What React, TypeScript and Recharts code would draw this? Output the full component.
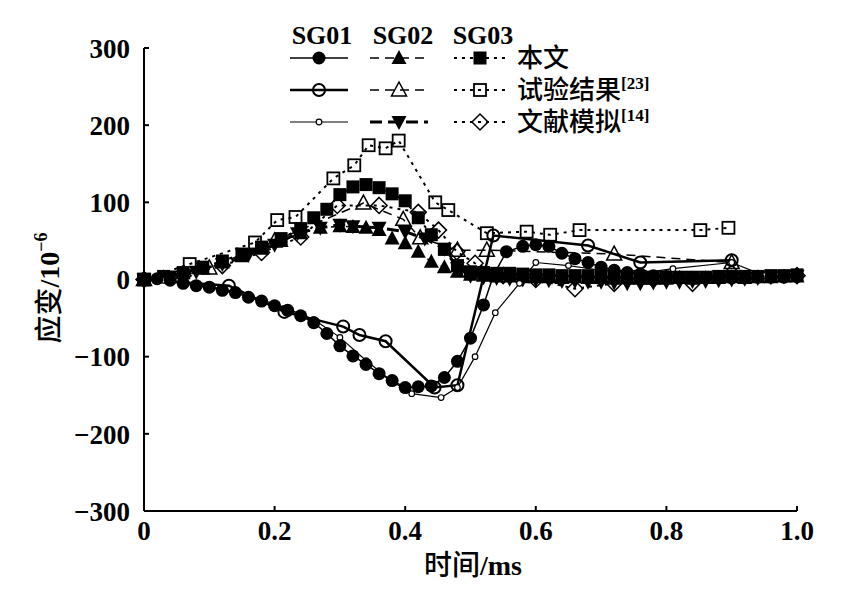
import React from "react";
import { Line, LineChart, XAxis, YAxis } from "recharts";

// SG01
const sg01ModelX = [0, 0.02, 0.04, 0.06, 0.08, 0.1, 0.12, 0.14, 0.16, 0.18, 0.2, 0.22, 0.24, 0.26, 0.28, 0.3, 0.32, 0.34, 0.36, 0.38, 0.4, 0.42, 0.44, 0.46, 0.48, 0.5, 0.52, 0.535, 0.555, 0.58, 0.6, 0.62, 0.64, 0.66, 0.68, 0.7, 0.72, 0.74, 0.76, 0.78, 0.8, 0.82, 0.84, 0.86, 0.88, 0.9, 0.92, 0.94, 0.96, 0.98, 1.0];
const sg01ModelY = [0, 1, -1, -5, -8, -10, -14, -17, -23, -28, -34, -40, -47, -56, -70, -86, -99, -110, -122, -131, -140, -139, -138, -127, -106, -76, -33, 5, 36, 43, 45, 43, 34, 27, 22, 16, 12, 9, 7, 5, 4, 3, 2, 2, 2, 2, 2, 3, 3, 3, 4];
const sg01TestX = [0, 0.13, 0.215, 0.305, 0.33, 0.37, 0.445, 0.48, 0.535, 0.68, 0.76, 0.9];
const sg01TestY = [0, -8, -42, -61, -72, -80, -140, -137, 57, 44, 22, 25];
const sg01RefX = [0, 0.03, 0.06, 0.1, 0.14, 0.18, 0.22, 0.26, 0.3, 0.34, 0.38, 0.41, 0.455, 0.48, 0.507, 0.538, 0.575, 0.6, 0.65, 0.7, 0.76, 0.81, 0.9, 0.95, 1.0];
const sg01RefY = [0, -1, -4, -9, -16, -26, -38, -52, -75, -105, -132, -148, -153, -140, -100, -43, -5, 22, 18, 12, 8, 14, 22, 5, 3];

// SG02
const sg02ModelX = [0, 0.03, 0.06, 0.09, 0.12, 0.15, 0.18, 0.21, 0.24, 0.27, 0.3, 0.32, 0.34, 0.36, 0.38, 0.4, 0.42, 0.44, 0.46, 0.48, 0.5, 0.52, 0.54, 0.56, 0.58, 0.6, 0.62, 0.64, 0.66, 0.68, 0.7, 0.72, 0.74, 0.76, 0.78, 0.8, 0.82, 0.84, 0.86, 0.88, 0.9, 0.92, 0.94, 0.96, 0.98, 1.0];
const sg02ModelY = [0, 3, 8, 14, 22, 30, 40, 50, 60, 67, 69, 68, 67, 64, 53, 47, 36, 23, 16, 10, 6, 5, 4, 4, 3, 3, 3, 2, 3, 2, 2, 1, 2, 1, 1, 1, 2, 1, 2, 2, 3, 2, 3, 3, 4, 4];
const sg02TestX = [0, 0.1, 0.2, 0.336, 0.397, 0.423, 0.48, 0.525, 0.72, 0.9];
const sg02TestY = [0, 15, 50, 99, 78, 54, 38, 38, 33, 22];
const sg02RefX = [0, 0.04, 0.08, 0.12, 0.16, 0.2, 0.235, 0.27, 0.3, 0.32, 0.36, 0.4, 0.43, 0.46, 0.48, 0.5, 0.52, 0.54, 0.56, 0.58, 0.6, 0.62, 0.64, 0.66, 0.68, 0.7, 0.72, 0.74, 0.76, 0.78, 0.8, 0.82, 0.84, 0.86, 0.88, 0.9, 0.92, 0.94, 0.96, 0.98, 1.0];
const sg02RefY = [0, 4, 10, 20, 32, 45, 60, 67, 71, 69, 67, 62, 53, 40, 15, 5, 3, 2, 1, 0, 0, -1, -2, -2, -3, -3, -4, -5, -5, -4, -3, -3, -2, -2, -1, 0, 1, 2, 3, 4, 5];

// SG03
const sg03ModelX = [0, 0.03, 0.06, 0.09, 0.12, 0.15, 0.18, 0.21, 0.24, 0.26, 0.28, 0.3, 0.32, 0.34, 0.36, 0.38, 0.4, 0.42, 0.44, 0.46, 0.48, 0.5, 0.52, 0.54, 0.56, 0.58, 0.6, 0.62, 0.64, 0.66, 0.68, 0.7, 0.72, 0.74, 0.76, 0.78, 0.8, 0.82, 0.84, 0.86, 0.88, 0.9, 0.92, 0.94, 0.96, 0.98, 1.0];
const sg03ModelY = [0, 4, 9, 16, 24, 33, 42, 53, 66, 80, 91, 110, 120, 123, 119, 111, 102, 80, 58, 39, 18, 10, 9, 8, 8, 7, 6, 6, 5, 5, 5, 5, 4, 4, 4, 3, 3, 3, 3, 3, 4, 4, 4, 4, 5, 5, 6];
const sg03TestX = [0, 0.07, 0.17, 0.204, 0.232, 0.29, 0.322, 0.344, 0.37, 0.39, 0.446, 0.466, 0.525, 0.586, 0.622, 0.667, 0.852, 0.895];
const sg03TestY = [0, 20, 48, 77, 81, 131, 148, 174, 170, 180, 100, 90, 60, 62, 58, 64, 64, 67];
const sg03RefX = [0, 0.06, 0.12, 0.18, 0.24, 0.296, 0.36, 0.42, 0.451, 0.479, 0.507, 0.55, 0.6, 0.66, 0.72, 0.78, 0.84, 0.9, 1.0];
const sg03RefY = [0, 5, 18, 35, 55, 96, 96, 87, 64, 36, 21, 5, 0, -12, -5, 0, -5, 8, 5];

const xTicks = [0, 0.2, 0.4, 0.6, 0.8, 1.0];
const yTicks = [-300, -200, -100, 0, 100, 200, 300];

const sgNames = ["SG01", "SG02", "SG03"];
const rowNames = ["本文", "试验结果", "文献模拟"];
const rowRefs = ["", "[23]", "[14]"];

const zip = (xs: number[], ys: number[]) => xs.map((x, i) => ({ x, y: ys[i] }));

type Kind = "dotFill" | "dotOpen" | "dotSmall" | "triUp" | "triOpen" | "triDown" | "sqFill" | "sqOpen" | "diamond";

const SERIF = "'Liberation Serif', 'Times New Roman', 'Noto Sans CJK SC', serif";
const CJK = "'Noto Sans CJK SC', sans-serif";

function Marker({ kind, cx, cy }: { kind: Kind; cx: number; cy: number }) {
  if (cx == null || cy == null) return null;
  switch (kind) {
    case "dotFill":
      return <circle cx={cx} cy={cy} r={6.5} fill="#000" />;
    case "dotOpen":
      return <circle cx={cx} cy={cy} r={6} fill="none" stroke="#000" strokeWidth={2} />;
    case "dotSmall":
      return <circle cx={cx} cy={cy} r={2.8} fill="#fff" stroke="#000" strokeWidth={1.2} />;
    case "triUp":
      return <polygon points={`${cx},${cy - 8} ${cx - 7.5},${cy + 6} ${cx + 7.5},${cy + 6}`} fill="#000" />;
    case "triOpen":
      return (
        <polygon
          points={`${cx},${cy - 8} ${cx - 7.5},${cy + 6} ${cx + 7.5},${cy + 6}`}
          fill="none"
          stroke="#000"
          strokeWidth={1.5}
        />
      );
    case "triDown":
      return <polygon points={`${cx - 7.5},${cy - 6} ${cx + 7.5},${cy - 6} ${cx},${cy + 8}`} fill="#000" />;
    case "sqFill":
      return <rect x={cx - 6.5} y={cy - 6.5} width={13} height={13} fill="#000" />;
    case "sqOpen":
      return <rect x={cx - 6} y={cy - 6} width={12} height={12} fill="none" stroke="#000" strokeWidth={1.8} />;
    case "diamond":
      return (
        <polygon
          points={`${cx},${cy - 8} ${cx + 8},${cy} ${cx},${cy + 8} ${cx - 8},${cy}`}
          fill="none"
          stroke="#000"
          strokeWidth={1.5}
        />
      );
  }
  return null;
}

type Series = {
  name: string;
  data: { x: number; y: number }[];
  kind: Kind;
  width: number;
  dash?: string;
};

const dashLine = "9 6";
const dotLine = "3 5";

// drawn back to front: SG03, SG02, SG01
const series: Series[] = [
  { name: "sg03Ref", data: zip(sg03RefX, sg03RefY), kind: "diamond", width: 2, dash: dotLine },
  { name: "sg03Test", data: zip(sg03TestX, sg03TestY), kind: "sqOpen", width: 2, dash: dotLine },
  { name: "sg03Model", data: zip(sg03ModelX, sg03ModelY), kind: "sqFill", width: 2, dash: dotLine },
  { name: "sg02Ref", data: zip(sg02RefX, sg02RefY), kind: "triDown", width: 3, dash: "12 6" },
  { name: "sg02Test", data: zip(sg02TestX, sg02TestY), kind: "triOpen", width: 1.5, dash: dashLine },
  { name: "sg02Model", data: zip(sg02ModelX, sg02ModelY), kind: "triUp", width: 1.5, dash: dashLine },
  { name: "sg01Ref", data: zip(sg01RefX, sg01RefY), kind: "dotSmall", width: 1.2 },
  { name: "sg01Test", data: zip(sg01TestX, sg01TestY), kind: "dotOpen", width: 2.5 },
  { name: "sg01Model", data: zip(sg01ModelX, sg01ModelY), kind: "dotFill", width: 1.5 },
];

// legend grid: rows = 本文 / 试验结果 / 文献模拟, cols = SG01 / SG02 / SG03
const legendKinds: Kind[][] = [
  ["dotFill", "triUp", "sqFill"],
  ["dotOpen", "triOpen", "sqOpen"],
  ["dotSmall", "triDown", "diamond"],
];
const legendStyle = [
  [{ w: 1.5, d: undefined }, { w: 1.5, d: dashLine }, { w: 2, d: dotLine }],
  [{ w: 2.5, d: undefined }, { w: 1.5, d: dashLine }, { w: 2, d: dotLine }],
  [{ w: 1.2, d: undefined }, { w: 3, d: "12 6" }, { w: 2, d: dotLine }],
];
const legendCols = [
  { x1: 290, x2: 348, cx: 319, tx: 322 },
  { x1: 370, x2: 428, cx: 399, tx: 403 },
  { x1: 454, x2: 506, cx: 480, tx: 483 },
];
const legendRows = [58, 90, 122];

const fmtY = (v: number) => (v < 0 ? `\u2212${Math.abs(v)}` : String(v));
const fmtX = (v: number) => (v === 0 ? "0" : v.toFixed(1));

function YTick(props: any) {
  const { x, y, payload } = props;
  return (
    <g>
      <line x1={x} x2={x + 5} y1={y} y2={y} stroke="#000" strokeWidth={2} />
      <text x={x - 14} y={y} dy="0.36em" textAnchor="end" fontFamily={SERIF} fontSize={27} fontWeight="bold" fill="#000">
        {fmtY(payload.value)}
      </text>
    </g>
  );
}

function XTick(props: any) {
  const { x, y, payload } = props;
  return (
    <g>
      <line x1={x} x2={x} y1={y} y2={y - 5} stroke="#000" strokeWidth={2} />
      <text x={x} y={y + 29} textAnchor="middle" fontFamily={SERIF} fontSize={27} fontWeight="bold" fill="#000">
        {fmtX(payload.value)}
      </text>
    </g>
  );
}

export default function App() {
  return (
    <div style={{ position: "absolute", left: 0, top: 0, width: 851, height: 604, background: "#fff" }}>
      <LineChart width={851} height={604} margin={{ top: 48, right: 54, bottom: 53, left: 0 }}>
        <XAxis
          type="number"
          dataKey="x"
          domain={[0, 1]}
          ticks={xTicks}
          height={40}
          axisLine={{ stroke: "#000", strokeWidth: 2 }}
          tickLine={false}
          tickSize={0}
          tickMargin={0}
          tick={<XTick />}
          interval={0}
        />
        <YAxis
          type="number"
          dataKey="y"
          domain={[-300, 300]}
          ticks={yTicks}
          width={144}
          axisLine={{ stroke: "#000", strokeWidth: 2 }}
          tickLine={false}
          tickSize={0}
          tickMargin={0}
          tick={<YTick />}
          interval={0}
        />
        {series.map((s) => (
          <Line
            key={s.name}
            data={s.data}
            dataKey="y"
            type="linear"
            stroke="#000"
            strokeWidth={s.width}
            strokeDasharray={s.dash}
            isAnimationActive={false}
            dot={(p: any) => <Marker key={`${s.name}-${p.index}`} kind={s.kind} cx={p.cx} cy={p.cy} />}
            activeDot={false}
          />
        ))}
      </LineChart>
      <svg width={851} height={604} style={{ position: "absolute", left: 0, top: 0, pointerEvents: "none" }}>
        {/* axis titles */}
        <text transform="rotate(-90)" x={-288} y={59} textAnchor="middle" fontFamily={SERIF} fontSize={28} fill="#000">
          <tspan fontFamily={CJK} fontWeight={500}>应变</tspan>
          <tspan fontWeight="bold">/10</tspan>
          <tspan fontWeight="bold" fontSize={18} dy={-12}>
            {"\u2212"}6
          </tspan>
        </text>
        <text x={473} y={575} textAnchor="middle" fontFamily={SERIF} fontSize={28} fill="#000">
          <tspan fontFamily={CJK} fontWeight={500}>时间</tspan>
          <tspan fontWeight="bold">/ms</tspan>
        </text>
        {/* legend */}
        {sgNames.map((n, c) => (
          <text key={n} x={legendCols[c].tx} y={44} textAnchor="middle" fontFamily={SERIF} fontSize={26} fontWeight="bold" fill="#000">
            {n}
          </text>
        ))}
        {legendRows.map((ry, r) => (
          <g key={r}>
            {legendCols.map((col, c) => (
              <g key={c}>
                <line
                  x1={col.x1}
                  x2={col.x2}
                  y1={ry}
                  y2={ry}
                  stroke="#000"
                  strokeWidth={legendStyle[r][c].w}
                  strokeDasharray={legendStyle[r][c].d}
                />
                <Marker kind={legendKinds[r][c]} cx={col.cx} cy={ry} />
              </g>
            ))}
            <text x={517} y={ry + 9} fontFamily={SERIF} fontSize={26} fontWeight={500} fill="#000">
              {rowNames[r]}
              {rowRefs[r] && (
                <tspan fontWeight="bold" fontSize={17} dy={-10}>
                  {rowRefs[r]}
                </tspan>
              )}
            </text>
          </g>
        ))}
      </svg>
    </div>
  );
}
